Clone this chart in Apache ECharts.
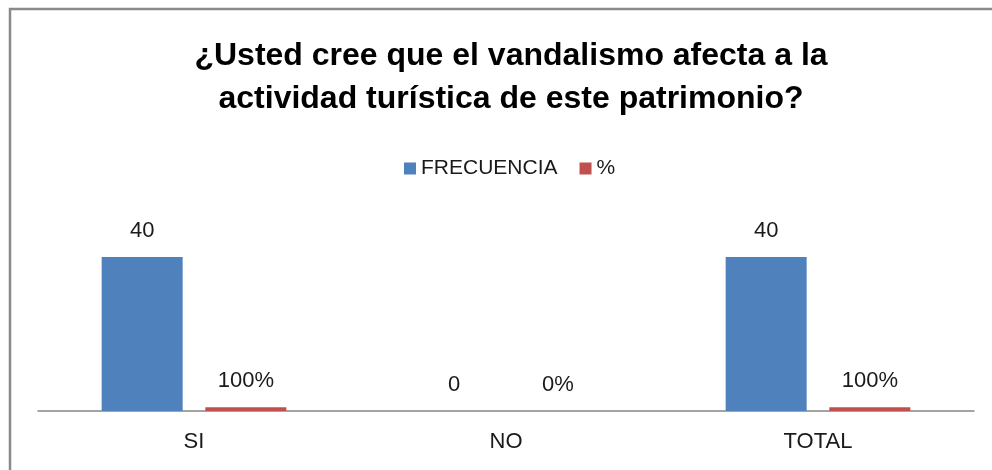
<!DOCTYPE html>
<html>
<head>
<meta charset="utf-8">
<script src="https://cdn.jsdelivr.net/npm/echarts@6/dist/echarts.min.js"></script>
<style>
  html, body { margin: 0; padding: 0; background: #fff; }
  #chart { width: 992px; height: 470px; }
</style>
</head>
<body>
<div id="chart"></div>
<script>
// datos de la encuesta
const categorias = ['SI', 'NO', 'TOTAL'];
const frecuencia = [40, 0, 40];
const porcentaje = [1, 0, 1]; // 1 = 100%

const myChart = echarts.init(document.getElementById('chart'));
const fuente = '"Liberation Sans", Arial, sans-serif';

myChart.setOption({
  backgroundColor: '#fff',
  animation: false,
  textStyle: { fontFamily: fuente },
  title: {
    text: '¿Usted cree que el vandalismo afecta a la\nactividad turística de este patrimonio?',
    left: 506,
    top: 30,
    textAlign: 'center',
    textStyle: {
      fontSize: 32,
      fontWeight: 'bold',
      color: '#000',
      lineHeight: 43,
      fontFamily: fuente
    }
  },
  legend: {
    data: ['FRECUENCIA', '%'],
    top: 153,
    left: 399,
    itemWidth: 12,
    itemHeight: 12,
    itemGap: 22,
    icon: 'rect',
    textStyle: { fontSize: 21, color: '#1a1a1a', fontFamily: fuente }
  },
  grid: {
    left: 38,
    right: 18,
    top: 257,
    bottom: 59
  },
  xAxis: {
    type: 'category',
    data: categorias,
    axisLine: { lineStyle: { color: '#868686', width: 1.5 } },
    axisTick: { show: false },
    axisLabel: { fontSize: 22, color: '#1a1a1a', margin: 20, fontFamily: fuente }
  },
  yAxis: {
    type: 'value',
    min: 0,
    max: 40,
    show: false,
    splitLine: { show: false }
  },
  graphic: [{
    type: 'rect',
    shape: { x: 10, y: 9, width: 1000, height: 500 },
    style: { fill: 'none', stroke: '#8a8a8a', lineWidth: 2.5 },
    silent: true
  }],
  series: [
    {
      name: 'FRECUENCIA',
      type: 'bar',
      data: frecuencia,
      barWidth: 81,
      barGap: '28%',
      itemStyle: { color: '#4F81BD' },
      label: {
        show: true,
        position: 'top',
        distance: 15,
        fontSize: 22,
        color: '#1a1a1a',
        fontFamily: fuente
      }
    },
    {
      name: '%',
      type: 'bar',
      data: porcentaje,
      barWidth: 81,
      itemStyle: { color: '#C0504D' },
      label: {
        show: true,
        position: 'top',
        distance: 15,
        fontSize: 22,
        color: '#1a1a1a',
        fontFamily: fuente,
        formatter: function (p) { return Math.round(p.value * 100) + '%'; }
      }
    }
  ]
});
</script>
</body>
</html>
